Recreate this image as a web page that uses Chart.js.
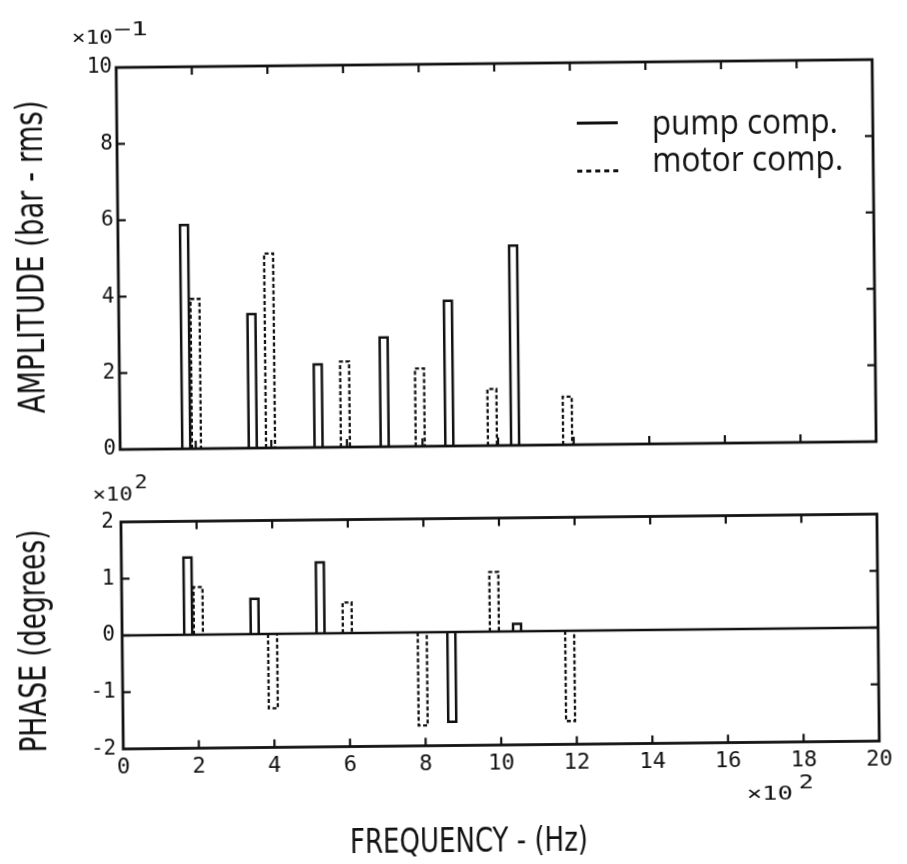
<!DOCTYPE html>
<html>
<head>
<meta charset="utf-8">
<script src="https://cdn.jsdelivr.net/npm/chart.js@4.4.1/dist/chart.umd.min.js"></script>
<style>
  html, body { margin: 0; padding: 0; background: #fff; }
  /* the scanned figure sits slightly tilted */
  #page { position: relative; width: 907px; height: 864px; transform: rotate(-0.6deg); transform-origin: 453.5px 432px; }
  #page canvas { position: absolute; left: 0; top: 0; }
</style>
</head>
<body>
<div id="page">
  <canvas id="ampChart" width="907" height="864"></canvas>
  <canvas id="phaseChart" width="907" height="864"></canvas>
</div>
<script>
// frequencies of the components, Hz
const pumpFreq = [175, 351, 525, 700, 871, 1045];
const motorFreq = [202, 398, 596, 794, 985, 1184];
// amplitude, bar rms
const pumpAmp = [0.586, 0.351, 0.217, 0.286, 0.38, 0.523];
const motorAmp = [0.392, 0.509, 0.224, 0.204, 0.148, 0.126];
// phase, degrees (no phase bar for the pump at ~700 Hz)
const pumpPhase = [136, 62, 125, null, -158, 13];
const motorPhase = [84, -131, 54, -164, 105, -159];

const seriesNames = ['pump comp.', 'motor comp.'];
const freqTicks = [0, 200, 400, 600, 800, 1000, 1200, 1400, 1600, 1800, 2000];
const ampTicks = [0, 0.2, 0.4, 0.6, 0.8, 1.0];
const phaseTicks = [-200, -100, 0, 100, 200];

const MONO = '"DejaVu Sans Mono", monospace';
const SANS = '"DejaVu Sans", sans-serif';
const INK = '#111';
const NONE = 'rgba(0,0,0,0)';

Chart.defaults.font.family = MONO;
Chart.defaults.color = INK;

// text squeezed/stretched horizontally to a given width
function fitText(ctx, text, x, y, width, font, align) {
    ctx.save();
    ctx.font = font;
    const w = ctx.measureText(text).width;
    ctx.translate(x, y);
    ctx.scale(width / w, 1);
    ctx.textAlign = align || 'center';
    ctx.textBaseline = 'alphabetic';
    ctx.fillText(text, 0, 0);
    ctx.restore();
}

function rotatedTitle(ctx, text, x, y, width, size) {
    ctx.save();
    ctx.translate(x, y);
    ctx.rotate(-Math.PI / 2);
    fitText(ctx, text, 0, 0, width, size + 'px ' + SANS, 'center');
    ctx.restore();
}

// "x10" with a raised exponent
function power(ctx, x, y, width, exp, ex, ey, ew) {
    fitText(ctx, '×10', x, y, width, '20px ' + MONO, 'left');
    fitText(ctx, exp, ex, ey, ew, '19px ' + MONO, 'left');
}

function seg(ctx, x1, y1, x2, y2) {
    ctx.beginPath();
    ctx.moveTo(x1, y1);
    ctx.lineTo(x2, y2);
    ctx.stroke();
}

// box, inward ticks, zero line and open bar outlines
const framePlugin = {
    id: 'frame',
    afterDatasetsDraw(chart, args, opts) {
        const ctx = chart.ctx;
        const {left, right, top, bottom} = chart.chartArea;
        const xs = chart.scales.x, ys = chart.scales.y;
        ctx.save();
        ctx.strokeStyle = INK;
        ctx.lineCap = 'butt';

        if (opts.zeroLine) {
            ctx.lineWidth = 2.6;
            const y0 = ys.getPixelForValue(0);
            seg(ctx, left, y0, right, y0);
        }

        chart.data.datasets.forEach((ds, i) => {
            const meta = chart.getDatasetMeta(i);
            ctx.lineWidth = ds.outlineWidth;
            ctx.setLineDash(ds.outlineDash);
            meta.data.forEach((el, j) => {
                if (ds.data[j].y == null) return;
                const p = el.getProps(['x', 'y', 'base', 'width'], true);
                const l = p.x - p.width / 2, r = p.x + p.width / 2;
                ctx.beginPath();
                ctx.moveTo(l, p.base);
                ctx.lineTo(l, p.y);
                ctx.lineTo(r, p.y);
                ctx.lineTo(r, p.base);
                ctx.stroke();
            });
        });
        ctx.setLineDash([]);

        ctx.lineWidth = 2.8;
        ctx.strokeRect(left, top, right - left, bottom - top);

        ctx.lineWidth = 2.2;
        const tl = 8;
        xs.ticks.forEach(t => {
            const px = xs.getPixelForValue(t.value);
            if (px <= left + 1 || px >= right - 1) return;
            seg(ctx, px, top, px, top + tl);
            seg(ctx, px, bottom, px, bottom - tl);
        });
        ys.ticks.forEach(t => {
            const py = ys.getPixelForValue(t.value);
            if (py <= top + 1 || py >= bottom - 1) return;
            seg(ctx, left, py, left + tl, py);
            seg(ctx, right, py, right - tl, py);
        });
        ctx.restore();
    },
    afterDraw(chart, args, opts) {
        if (opts.extras) opts.extras(chart.ctx, chart);
    }
};

function drawAmpExtras(ctx) {
    ctx.save();
    ctx.fillStyle = INK;
    ctx.strokeStyle = INK;
    rotatedTitle(ctx, 'AMPLITUDE (bar - rms)', 44.8, 252.6, 313, 38);
    power(ctx, 76, 40, 41, '−1', 118, 32, 34);

    // legend
    ctx.lineWidth = 2.8;
    seg(ctx, 580, 124.5, 621, 124.5);
    ctx.setLineDash([5, 4]);
    seg(ctx, 580, 172.5, 625, 172.5);
    ctx.setLineDash([]);
    fitText(ctx, seriesNames[0], 655, 137, 186, '500 34px "Open Sans", sans-serif', 'left');
    fitText(ctx, seriesNames[1], 655, 174, 191, '500 34px "Open Sans", sans-serif', 'left');
    ctx.restore();
}

function drawPhaseExtras(ctx) {
    ctx.save();
    ctx.fillStyle = INK;
    rotatedTitle(ctx, 'PHASE (degrees)', 42.8, 636.6, 223, 38);
    power(ctx, 92, 496.5, 40, '2', 134, 484.5, 13);
    power(ctx, 743, 803, 46, '2', 795, 791.5, 15);
    fitText(ctx, 'FREQUENCY - (Hz)', 464.7, 852, 238, '33px ' + SANS, 'center');
    ctx.restore();
}

function toPoints(xs, ys) {
    return xs.map((x, i) => ({x: x, y: ys[i]}));
}

function makeChart(id, cfg) {
    return new Chart(document.getElementById(id), {
        type: 'bar',
        data: {
            datasets: [{
                label: seriesNames[0],
                data: toPoints(pumpFreq, cfg.pump),
                backgroundColor: NONE,
                borderColor: NONE,
                borderWidth: 0,
                barThickness: 8,
                outlineWidth: 2.5,
                outlineDash: []
            }, {
                label: seriesNames[1],
                data: toPoints(motorFreq, cfg.motor),
                backgroundColor: NONE,
                borderColor: NONE,
                borderWidth: 0,
                barThickness: 9,
                outlineWidth: 2.3,
                outlineDash: [4, 2.5]
            }]
        },
        options: {
            responsive: false,
            animation: false,
            devicePixelRatio: 1,
            layout: { padding: cfg.padding },
            datasets: { bar: { grouped: false } },
            scales: {
                x: {
                    type: 'linear',
                    offset: false,
                    min: 0,
                    max: 2000,
                    afterBuildTicks: s => { s.ticks = freqTicks.map(v => ({value: v})); },
                    ticks: {
                        display: cfg.xLabels,
                        padding: 6,
                        maxRotation: 0,
                        font: { size: 22 },
                        callback: v => String(v / 100)
                    },
                    grid: { display: false, drawTicks: false, offset: false },
                    border: { display: false },
                    afterFit: s => { s.height = cfg.xHeight; }
                },
                y: {
                    min: cfg.yTicks[0],
                    max: cfg.yTicks[cfg.yTicks.length - 1],
                    afterBuildTicks: s => { s.ticks = cfg.yTicks.map(v => ({value: v})); },
                    ticks: {
                        padding: cfg.yPad,
                        font: { size: 21 },
                        callback: cfg.yFormat
                    },
                    grid: { display: false, drawTicks: false },
                    border: { display: false },
                    afterFit: s => { s.width = 120; }
                }
            },
            plugins: {
                colors: { enabled: false },
                legend: { display: false },
                tooltip: { enabled: false },
                frame: { zeroLine: cfg.zeroLine, extras: cfg.extras }
            }
        },
        plugins: [framePlugin]
    });
}

document.addEventListener('DOMContentLoaded', () => {
    makeChart('ampChart', {
        pump: pumpAmp,
        motor: motorAmp,
        yTicks: ampTicks,
        yFormat: v => String(Math.round(v * 10)),
        yPad: 4,
        padding: { top: 64, right: 31, bottom: 418, left: 0 },
        xLabels: false,
        xHeight: 0,
        zeroLine: false,
        extras: drawAmpExtras
    });
    makeChart('phaseChart', {
        pump: pumpPhase,
        motor: motorPhase,
        yTicks: phaseTicks,
        yFormat: v => String(v / 100),
        yPad: 7,
        padding: { top: 518.5, right: 31, bottom: 0, left: 0 },
        xLabels: true,
        xHeight: 118.5,
        zeroLine: true,
        extras: drawPhaseExtras
    });
});
</script>
</body>
</html>
